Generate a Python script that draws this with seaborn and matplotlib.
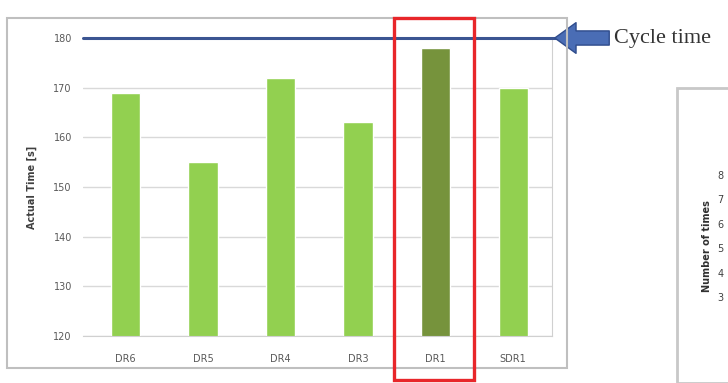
import seaborn as sns
import matplotlib.pyplot as plt
from matplotlib.patches import Rectangle

# bar chart data
stations = ["DR6", "DR5", "DR4", "DR3", "DR1", "SDR1"]
actual_time = [169, 155, 172, 163, 178, 170]
bar_colors = ["#92d050", "#92d050", "#92d050", "#92d050", "#76933c", "#92d050"]
cycle_time = 180

# partial second chart (only its y ticks are visible)
count_ticks = [3, 4, 5, 6, 7, 8]

sns.set_style("white")
fig = plt.figure(figsize=(7.28, 3.83), dpi=100)
W, H = 728, 383


def fig_box(x0, y0, x1, y1):
    # pixel box (top-left origin) -> figure fraction rect
    return [x0 / W, 1 - y1 / H, (x1 - x0) / W, (y1 - y0) / H]


ax = fig.add_axes(fig_box(83, 38, 552, 336))
sns.barplot(x=stations, y=actual_time, hue=stations, palette=bar_colors,
            saturation=1, legend=False, width=0.38, ax=ax, zorder=2)
ax.set_ylim(120, 180)
ax.set_xlim(-0.55, 5.5)
ax.set_yticks(range(120, 181, 10))
ax.yaxis.grid(True, color="#d9d9d9", lw=1, zorder=0)
ax.set_axisbelow(True)
for s in ["top", "left"]:
    ax.spines[s].set_visible(False)
for s in ["bottom", "right"]:
    ax.spines[s].set_color("#d0d0d0")
ax.tick_params(axis="y", labelsize=7, colors="#595959", length=0, pad=8)
ax.tick_params(axis="x", labelsize=7, colors="#595959", length=0, pad=13)
ax.set_ylabel("Actual Time [s]", fontsize=7, fontweight="bold", color="#404040",
              labelpad=12)
ax.set_xlabel("")

# cycle time line
ax.axhline(cycle_time, color="#3b5592", lw=2.2, xmin=0, xmax=1.01,
           clip_on=False, zorder=3)

# outer chart frame
fig.patches.append(Rectangle((7 / W, 1 - 368 / H), 560 / W, 350 / H,
                             transform=fig.transFigure, fill=False,
                             ec="#bfbfbf", lw=1.5))

# red highlight box round DR1
fig.patches.append(Rectangle((394 / W, 1 - 380 / H), 80 / W, 362 / H,
                             transform=fig.transFigure, fill=False,
                             ec="#e8262a", lw=2.4, zorder=5))

# arrow + label
ax.annotate("", xy=(552, H - 38), xytext=(612, H - 38),
            xycoords="figure pixels", textcoords="figure pixels",
            arrowprops=dict(arrowstyle="simple,head_length=0.9,head_width=1.3,tail_width=0.6",
                            fc="#4a6db5", ec="#2f4c8c", mutation_scale=17))
fig.text(614 / W, 1 - 38 / H, "Cycle time", fontsize=16, family="Liberation Serif",
         va="center", ha="left", color="#333333")

# second chart, cut off at the right edge
fig.patches.append(Rectangle((677 / W, 0), 0.2, 1 - 88 / H,
                             transform=fig.transFigure, fill=False,
                             ec="#c8c8c8", lw=2))
ax2 = fig.add_axes(fig_box(728, 110, 900, 383))
ax2.set_ylim(8 + (175 - 110) / 24.4, 3 - (383 - 297) / 24.4)
ax2.invert_yaxis()
ax2.set_yticks(count_ticks)
ax2.set_xticks([])
for s in ax2.spines.values():
    s.set_visible(False)
ax2.tick_params(axis="y", labelsize=7, colors="#404040", length=0, pad=3)
ax2.set_ylabel("Number of times", fontsize=7, fontweight="bold", color="#303030",
               labelpad=4)

fig.savefig("out.png", dpi=100)
